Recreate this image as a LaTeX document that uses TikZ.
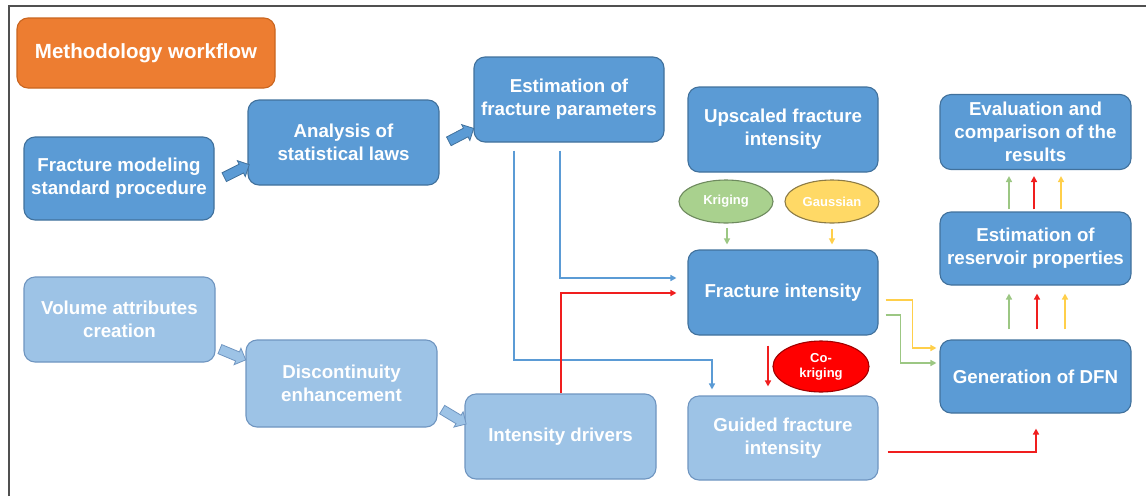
\documentclass[tikz,border=0pt]{standalone}
\usepackage{fontspec}
\setmainfont{Liberation Sans}
\usetikzlibrary{shapes.geometric,shapes.arrows,arrows.meta,calc}
\definecolor{dblue}{HTML}{5B9BD5}
\definecolor{dblueb}{HTML}{41719C}
\definecolor{lblue}{HTML}{9DC3E6}
\definecolor{lblueb}{HTML}{6F95C0}
\definecolor{orng}{HTML}{ED7D31}
\definecolor{orngb}{HTML}{C9651F}
\definecolor{kgreen}{HTML}{A9D18E}
\definecolor{kgreenb}{HTML}{6E8A5E}
\definecolor{gyel}{HTML}{FFD966}
\definecolor{gyelb}{HTML}{8C7B45}
\definecolor{cred}{HTML}{FF0000}
\definecolor{credb}{HTML}{A00000}
\definecolor{lnblue}{HTML}{5B9BD5}
\definecolor{lnred}{HTML}{F01E1E}
\definecolor{lngreen}{HTML}{9CC783}
\definecolor{lnyel}{HTML}{FFCF4A}
\definecolor{framec}{HTML}{505050}
\begin{document}
\begin{tikzpicture}[x=1pt,y=-1pt,
  box/.style={rectangle, rounded corners=11pt, draw=dblueb, fill=dblue, line width=1.1pt,
    text=white, font=\bfseries\fontsize{18.7}{23}\selectfont, align=center, inner sep=0pt},
  lbox/.style={box, draw=lblueb, fill=lblue},
  oval/.style={ellipse, inner sep=0pt, line width=1.1pt, text=white,
    font=\bfseries\fontsize{13}{15}\selectfont, align=center},
  ln/.style={line width=1.5pt, -{Triangle[length=6pt,width=6pt]}},
  barr/.style={single arrow, draw=dblueb, fill=dblue, line width=0.8pt,
    inner xsep=0pt, inner ysep=4.5pt,
    minimum height=28pt, single arrow head extend=4pt,
    single arrow head indent=0pt},
  lbarr/.style={barr, draw=lblueb, fill=lblue}
]
\useasboundingbox (0,0) rectangle (1146,496);
\draw[line width=2pt, framec] (9,496) -- (9,6) -- (1146,6);

% title
\node[box, draw=orngb, fill=orng, minimum width=258pt, minimum height=70pt,
  font=\bfseries\fontsize{20.5}{24}\selectfont] (title) at (146,53) {Methodology workflow};

% boxes
\node[box, minimum width=190pt, minimum height=83pt] (fmsp) at (119,178.5) {Fracture modeling\\standard procedure};
\node[box, minimum width=191pt, minimum height=85pt] (asl) at (343.5,142.5) {Analysis of\\statistical laws};
\node[box, minimum width=190pt, minimum height=85pt] (efp) at (569,99.5) {Estimation of\\fracture parameters};
\node[box, minimum width=190pt, minimum height=85pt] (ufi) at (783,129.5) {Upscaled fracture\\intensity};
\node[box, minimum width=191pt, minimum height=75pt] (eval) at (1035.5,132) {Evaluation and\\comparison of the\\results};
\node[box, minimum width=190pt, minimum height=85pt] (fi) at (783,292.5) {Fracture intensity};
\node[box, minimum width=191pt, minimum height=73pt] (erp) at (1035.5,248.5) {Estimation of\\reservoir properties};
\node[box, minimum width=191pt, minimum height=73pt] (gdfn) at (1035.5,376.5) {Generation of DFN};

\node[lbox, minimum width=191pt, minimum height=85pt] (vac) at (119.5,319.5) {Volume attributes\\creation};
\node[lbox, minimum width=191pt, minimum height=87pt] (disc) at (341.5,383.5) {Discontinuity\\enhancement};
\node[lbox, minimum width=191pt, minimum height=85pt] (idrv) at (560.5,436.5) {Intensity drivers};
\node[lbox, minimum width=190pt, minimum height=84pt] (guided) at (783,438) {Guided fracture\\intensity};

% ellipses
\node[oval, draw=kgreenb, fill=kgreen, minimum width=94pt, minimum height=43pt] (kr) at (726,201.5) {Kriging};
\node[oval, draw=gyelb, fill=gyel, minimum width=94pt, minimum height=43pt] (ga) at (832,201.5) {Gaussian};
\node[oval, draw=credb, fill=cred, minimum width=96pt, minimum height=51pt] (ck) at (821,366.5) {Co-\\kriging};

% block arrows
\node[barr, rotate=26.6] (ba1) at ($(fmsp.east)+(20,-6.5)$) {};
\node[barr, rotate=27.5] (ba2) at ($(asl.east)+(19.5,-6.5)$) {};
\node[lbarr, rotate=-22.6] (ba3) at ($(vac.south east)+(15,-9)$) {};
\node[lbarr, rotate=-31] (ba4) at ($(disc.south east)+(14.5,-12)$) {};

% blue connectors
\draw[ln, lnblue] ($(efp.south)+(-9,8)$) |- ($(fi.west)+(-11,-14.5)$);
\coordinate (bj) at (600,360);
\draw[ln, lnblue] ($(efp.south)+(-55,8)$) |- (bj) -| ($(guided.north)+(-71,-6)$);

% red connectors
\draw[ln, lnred] ($(idrv.north)+(0.5,0)$) |- ($(fi.west)+(-11,0.5)$);
\draw[ln, lnred, line width=1.8pt] ($(fi.south)+(-15,10)$) -- ($(guided.north)+(-15,-9)$);
\draw[ln, lnred] ($(guided.east)+(9,14)$) -| ($(gdfn.south)+(0.5,15)$);

% kriging / gaussian
\draw[ln, lngreen, line width=1.2pt] ($(kr.south)+(1,4)$) -- ($(kr.south |- fi.north)+(1,-5)$);
\draw[ln, lnyel, line width=1.2pt] ($(ga.south)+(0,5)$) -- ($(ga.south |- fi.north)+(0,-5)$);

% fracture intensity -> DFN
\draw[ln, lnyel] ($(fi.east)+(7,7.5)$) -- ++(27,0) |- ($(gdfn.west)+(-3,-28.5)$);
\draw[ln, lngreen] ($(fi.east)+(7,22.5)$) -- ++(15,0) |- ($(gdfn.west)+(-3,-13.5)$);

% DFN -> reservoir
\draw[ln, lngreen] ($(gdfn.north)+(-26.5,-10)$) -- ($(erp.south)+(-26.5,8)$);
\draw[ln, lnred] ($(gdfn.north)+(1.5,-10)$) -- ($(erp.south)+(1.5,8)$);
\draw[ln, lnyel] ($(gdfn.north)+(29.5,-10)$) -- ($(erp.south)+(29.5,8)$);

% reservoir -> evaluation
\draw[ln, lngreen] ($(erp.north)+(-26.5,-2)$) -- ($(eval.south)+(-26.5,6)$);
\draw[ln, lnred] ($(erp.north)+(-1.5,-2)$) -- ($(eval.south)+(-1.5,6)$);
\draw[ln, lnyel] ($(erp.north)+(25.5,-2)$) -- ($(eval.south)+(25.5,6)$);
\end{tikzpicture}
\end{document}
